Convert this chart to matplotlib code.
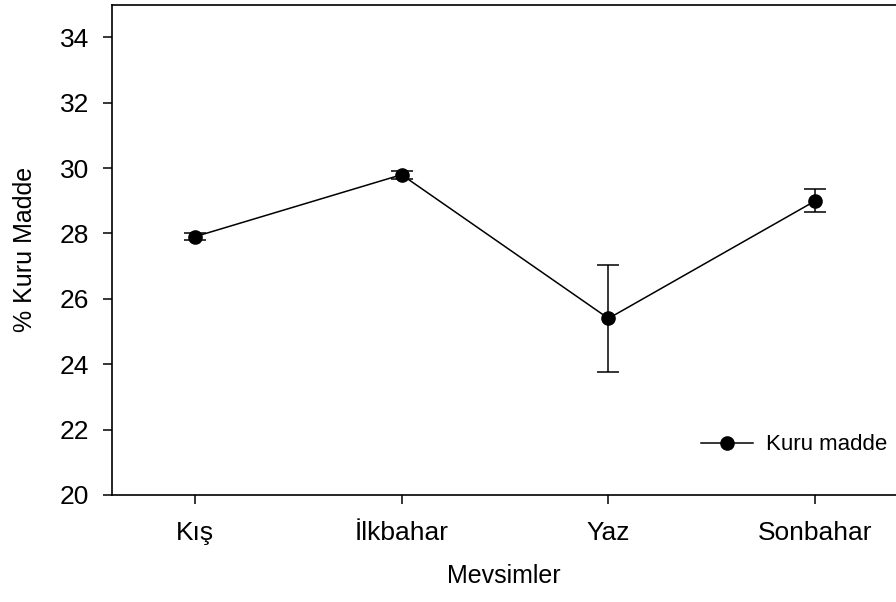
import matplotlib.pyplot as plt

plt.rcParams['font.family'] = ['Liberation Sans', 'DejaVu Sans']

# veriler
mevsimler = ['Kış', 'İlkbahar', 'Yaz', 'Sonbahar']
kuru_madde = [27.9, 29.8, 25.4, 29.0]
hata = [0.1, 0.12, 1.65, 0.35]

x = list(range(1, len(mevsimler) + 1))

fig = plt.figure(figsize=(8.96, 6.02), dpi=100, facecolor='white')
ax = fig.add_axes([0.125, 0.178, 0.875, 0.814])

# hata çubukları ve çizgi ayrı (lejantta hata çubuğu görünmesin)
ax.errorbar(x, kuru_madde, yerr=hata, fmt='none', ecolor='black',
            elinewidth=1.1, capsize=8, capthick=1.1)
ax.plot(x, kuru_madde, color='black', lw=1.1, marker='o', markersize=9.5,
        label='Kuru madde')

ax.set_xlim(0.6, 4.39)
ax.set_ylim(20, 35)
ax.set_yticks(range(20, 35, 2))
ax.set_xticks(x)
ax.set_xticklabels(mevsimler)

ax.spines['right'].set_visible(False)
for s in ['left', 'bottom', 'top']:
    ax.spines[s].set_linewidth(1.2)
ax.tick_params(direction='out', length=6.5, width=1.1, labelsize=19)
ax.tick_params(axis='y', pad=10)
ax.tick_params(axis='x', pad=12)

ax.set_xlabel('Mevsimler', fontsize=18, labelpad=14)
ax.set_ylabel('% Kuru Madde', fontsize=18, labelpad=16)

ax.legend(loc='center right', frameon=False, fontsize=16,
          bbox_to_anchor=(1.0, 0.102), handlelength=2.3,
          handletextpad=0.6, borderaxespad=0)

fig.savefig('out.png', dpi=100)
